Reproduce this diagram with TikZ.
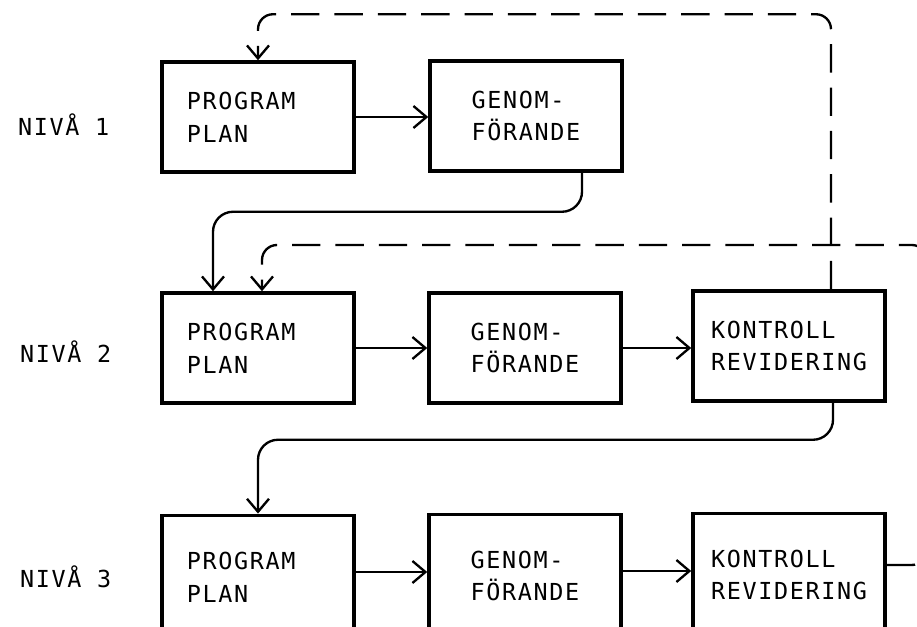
\documentclass[tikz,border=0pt]{standalone}
\usepackage{fontspec}
\newfontfamily\stencil[LetterSpace=7]{DejaVu Sans Mono}
\usetikzlibrary{arrows.meta, calc}
\tikzset{
  stage/.style={draw, line width=3pt, minimum width=5.76cm, minimum height=3.3cm, align=left, font=\stencil\fontsize{20}{28}\selectfont},
  plan/.style={stage, text width=4.26cm, inner xsep=0.75cm},
  tall/.style={minimum height=3.7cm},
  flow/.style={-{Straight Barb[length=3.9mm,width=6.6mm]}, line width=2pt},
  feedback/.style={flow, dash pattern=on 0.85cm off 0.45cm, rounded corners=0.45cm},
  level/.style={font=\stencil\fontsize{20}{24}\selectfont, anchor=west}
}
\begin{document}
\begin{tikzpicture}[x=0.03cm, y=-0.03cm]
\useasboundingbox (0,0) rectangle (917,627);
\clip (0,0) rectangle (917,627);
% levels
\node[level] (n1) at (14,125) {NIVÅ 1};
\node[level] (n2) at (16,352) {NIVÅ 2};
\node[level] (n3) at (16,577) {NIVÅ 3};
% level 1
\node[plan] (p1) at (258,117) {PROGRAM\\PLAN};
\node[stage] (g1) at (526,116) {GENOM-\\FÖRANDE};
\draw[flow] (p1.east) -- (p1.east -| g1.west);
% level 2
\node[plan] (p2) at (258,348) {PROGRAM\\PLAN};
\node[stage] (g2) at (525,348) {GENOM-\\FÖRANDE};
\node[stage] (k2) at (789,346) {KONTROLL\\REVIDERING};
\draw[flow] (p2.east) -- (p2.east -| g2.west);
\draw[flow] (g2.east) -- (g2.east -| k2.west);
% level 3 (cut off at the bottom)
\node[plan, tall] (p3) at (258,577) {PROGRAM\\PLAN};
\node[stage, tall] (g3) at (525,576) {GENOM-\\FÖRANDE};
\node[stage, tall] (k3) at (789,575) {KONTROLL\\REVIDERING};
\draw[flow] ([yshift=0.15cm]p3.east) -- ([yshift=0.15cm]p3.east -| g3.west);
\draw[flow] ([yshift=0.15cm]g3.east) -- ([yshift=0.15cm]g3.east -| k3.west);
% down to the next level
\draw[flow, rounded corners=0.6cm] ($(g1.south)+(56,0)$) -- ++(0,39) -| ($(p2.north)+(-45,0)$);
\draw[flow, rounded corners=0.6cm] ($(k2.south)+(44,0)$) -- ++(0,37) -| (p3.north);
% feedback loops
\draw[feedback] ($(k2.north)+(42,0)$) -- ++(0,-275) -| (p1.north);
\draw[feedback] ([yshift=0.3cm]k3.east) -- ++(40,0) -- ++(0,-320) -| ($(p2.north)+(4,0)$);
\end{tikzpicture}
\end{document}
